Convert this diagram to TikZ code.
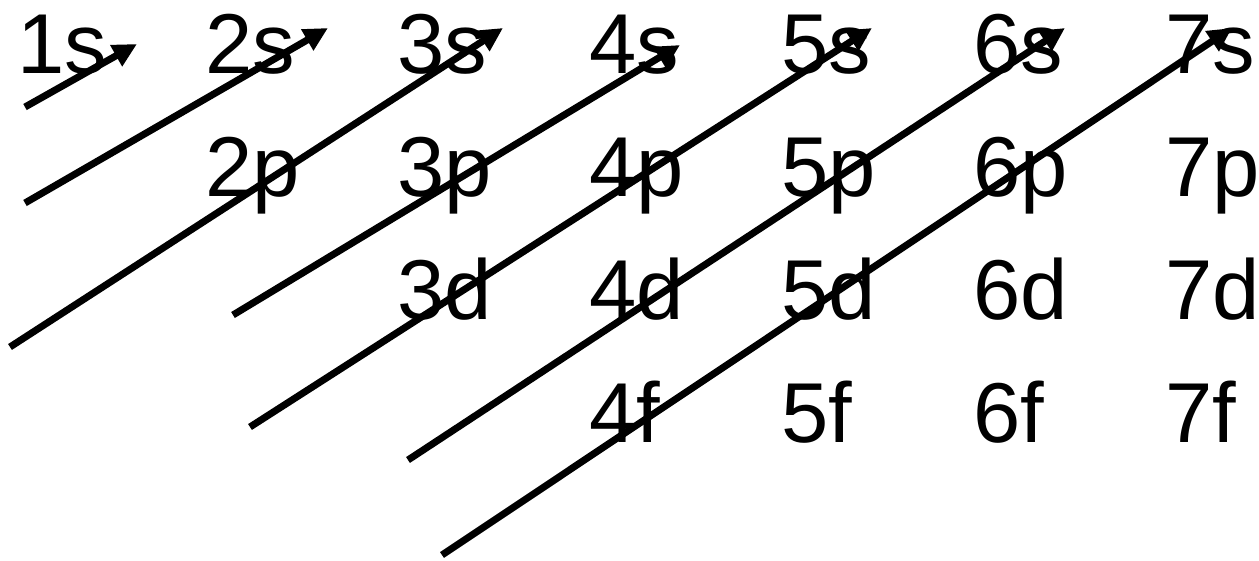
\documentclass[tikz,border=0pt]{standalone}
\usepackage{fontspec}
\setmainfont{Liberation Sans}
\usetikzlibrary{arrows.meta}

\begin{document}
\begin{tikzpicture}[
    x=1pt, y=-1pt,
    orbital/.style={anchor=base west, inner sep=0pt, font=\fontsize{85}{85}\selectfont},
    filling/.style={-{Triangle[length=24pt,width=23pt]}, line width=7pt, black}
]
\useasboundingbox (0,0) rectangle (1259,560);
%
\node[orbital] (s1) at (17,73) {1s};
\node[orbital] (s2) at (205,73) {2s};
\node[orbital] (s3) at (397,73) {3s};
\node[orbital] (s4) at (589,73) {4s};
\node[orbital] (s5) at (781,73) {5s};
\node[orbital] (s6) at (973,73) {6s};
\node[orbital] (s7) at (1165,73) {7s};
%
\node[orbital] (p2) at (205,196) {2p};
\node[orbital] (p3) at (397,196) {3p};
\node[orbital] (p4) at (589,196) {4p};
\node[orbital] (p5) at (781,196) {5p};
\node[orbital] (p6) at (973,196) {6p};
\node[orbital] (p7) at (1165,196) {7p};
%
\node[orbital] (d3) at (397,319) {3d};
\node[orbital] (d4) at (589,319) {4d};
\node[orbital] (d5) at (781,319) {5d};
\node[orbital] (d6) at (973,319) {6d};
\node[orbital] (d7) at (1165,319) {7d};
%
\node[orbital] (f4) at (589,442) {4f};
\node[orbital] (f5) at (781,442) {5f};
\node[orbital] (f6) at (973,442) {6f};
\node[orbital] (f7) at (1165,442) {7f};

%
\coordinate (start1) at (25,107);  \coordinate (tip1) at (137,44);
\coordinate (start2) at (25,203);  \coordinate (tip2) at (328,28);
\coordinate (start3) at (10,347);  \coordinate (tip3) at (503,28);
\coordinate (start4) at (233,315); \coordinate (tip4) at (680,45);
\coordinate (start5) at (250,427); \coordinate (tip5) at (872,28);
\coordinate (start6) at (408,460); \coordinate (tip6) at (1065,28);
\coordinate (start7) at (442,555); \coordinate (tip7) at (1232,28);
\draw[filling] (start1) -- (tip1);
\draw[filling] (start2) -- (tip2);
\draw[filling] (start3) -- (tip3);
\draw[filling] (start4) -- (tip4);
\draw[filling] (start5) -- (tip5);
\draw[filling] (start6) -- (tip6);
\draw[filling] (start7) -- (tip7);
\end{tikzpicture}
\end{document}
